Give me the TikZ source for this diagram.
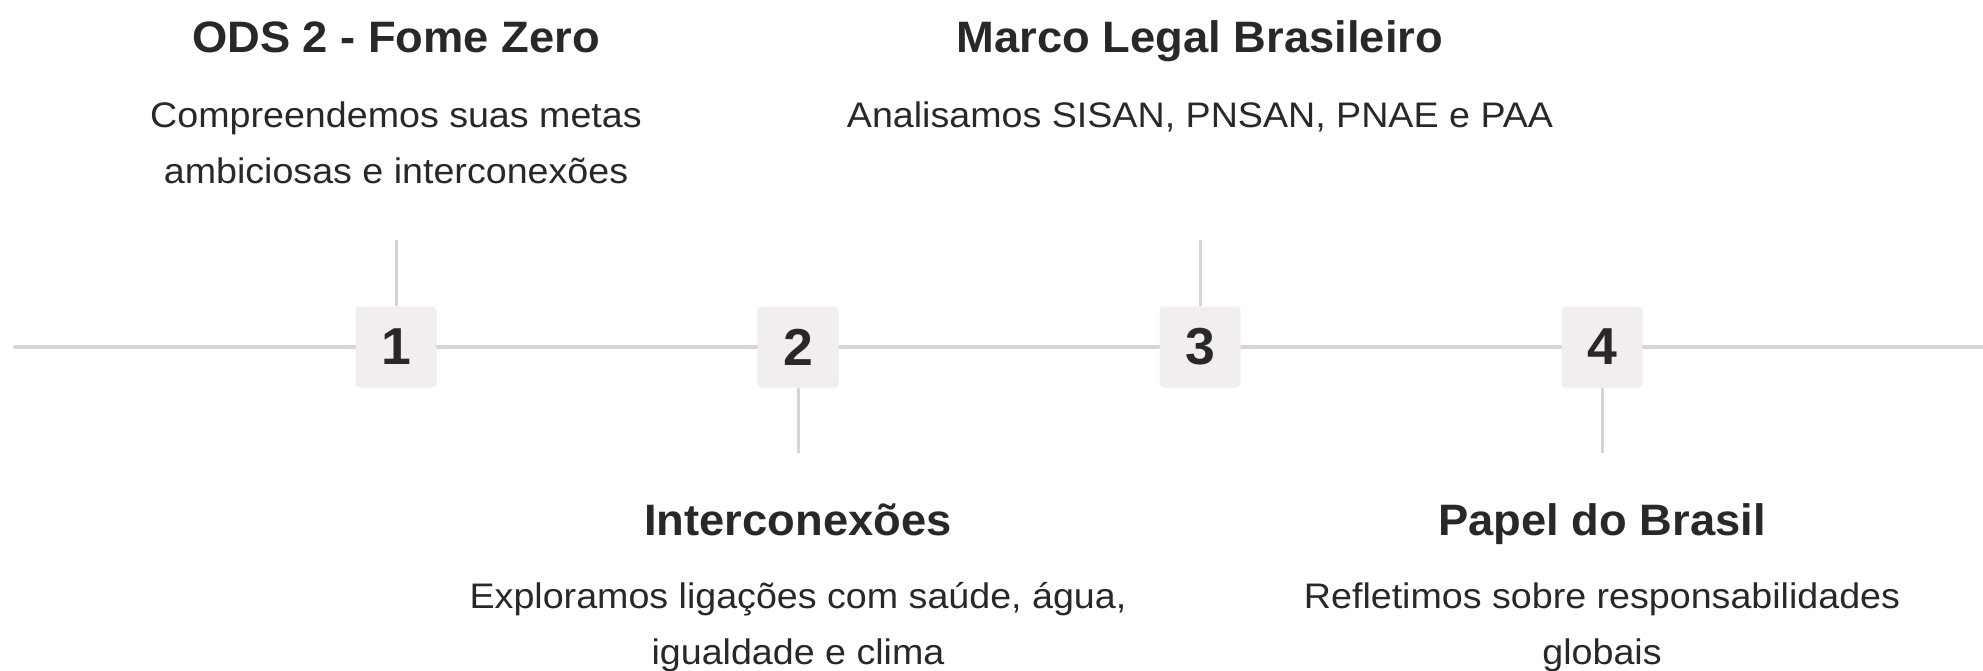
\documentclass[tikz,border=0pt]{standalone}
\usepackage{fontspec}
\setmainfont{Liberation Sans}
\newfontfamily\headfont{Liberation Sans}[FakeStretch=1.03]
\newfontfamily\bodyfont{Liberation Sans}[FakeStretch=1.06]
\usetikzlibrary{positioning}
\definecolor{ink}{HTML}{2A2727}
\definecolor{rulegray}{HTML}{D8D4D3}
\definecolor{chip}{HTML}{F1EEED}
\tikzset{
  tline/.style={rulegray,line width=4pt,line cap=round},
  tickline/.style={rulegray,line width=3pt},
  numbox/.style={fill=chip,rounded corners=4pt,minimum size=81pt,inner sep=0pt,
    font=\fontsize{52}{52}\selectfont\headfont\bfseries,text=ink},
  ttl/.style={font=\fontsize{44}{50}\selectfont\headfont\bfseries,text=ink,anchor=base},
  dsc/.style={font=\fontsize{35.5}{56}\selectfont\bodyfont,text=ink,align=center,anchor=base},
}

\begin{document}
\begin{tikzpicture}[x=1pt,y=-1pt]
  \useasboundingbox (0,0) rectangle (1983,671);
  % timeline axis
  \coordinate (lstart) at (15,347);
  \coordinate (lend) at (1983,347);
  \draw[tline] (lstart) -- (lend);
  % numbered steps
  \node[numbox] (n1) at (396,347) {1};
  \node[numbox] (n2) at (798,347) {2};
  \node[numbox] (n3) at (1200,347) {3};
  \node[numbox] (n4) at (1602,347) {4};
  % ticks
  \coordinate (k1) at (396,240);  \draw[tickline] (n1) -- (k1);
  \coordinate (k2) at (798,453);  \draw[tickline] (n2) -- (k2);
  \coordinate (k3) at (1200,240); \draw[tickline] (n3) -- (k3);
  \coordinate (k4) at (1602,453); \draw[tickline] (n4) -- (k4);
  % upper texts (base = last line)
  \node[ttl] (t1) at (396,53) {ODS 2 - Fome Zero};
  \node[dsc] (d1) at (396,184) {Compreendemos suas metas\\ambiciosas e interconexões};
  \node[ttl] (t3) at (1200,53) {Marco Legal Brasileiro};
  \node[dsc] (d3) at (1200,128) {Analisamos SISAN, PNSAN, PNAE e PAA};
  % lower texts
  \node[ttl] (t2) at (798,535) {Interconexões};
  \node[dsc] (d2) at (798,664) {Exploramos ligações com saúde, água,\\igualdade e clima};
  \node[ttl] (t4) at (1602,535) {Papel do Brasil};
  \node[dsc] (d4) at (1602,664) {Refletimos sobre responsabilidades\\globais};
\end{tikzpicture}
\end{document}
